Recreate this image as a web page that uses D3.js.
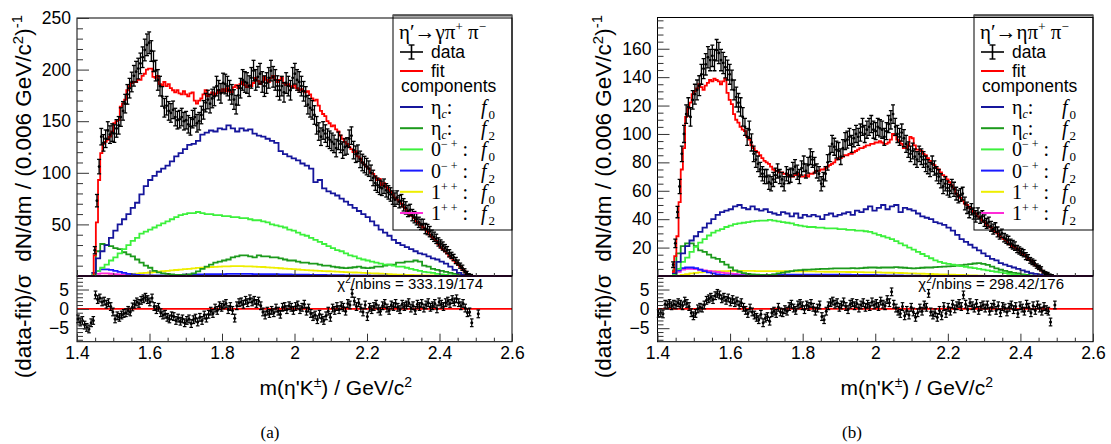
<!DOCTYPE html>
<html><head><meta charset="utf-8">
<script src="https://cdnjs.cloudflare.com/ajax/libs/d3/7.8.5/d3.min.js"></script>
</head>
<body style="margin:0;background:#fff">
<svg id="chart" width="1111" height="444" style="display:block"></svg>
<script>
// ---------- binning ----------
const BIN = 0.006;      // data / fit bin width (GeV)
const CBIN = 0.012;     // component bin width
const START = 1.44;     // first bin of data, fit, components
const RSTART = 1.40;    // first bin of residuals
const xTicks = [1.4, 1.6, 1.8, 2, 2.2, 2.4, 2.6];
const xTickLabels = ["1.4", "1.6", "1.8", "2", "2.2", "2.4", "2.6"];
const yTicksA = [50, 100, 150, 200, 250];
const yTicksB = [20, 40, 60, 80, 100, 120, 140, 160];
const rTicks = [-5, 0, 5];

// ---------- panel (a) ----------
const fitA = [
0,20,52,93,119,128,130,132,135,140,
148,150,151,164,167,171,180,184,187,188,
188,190,190,194,196,200,201,201,193,192,
194,186,185,188,184,186,182,180,178,180,
177,176,179,176,174,177,178,170,167,170,
172,176,180,174,176,178,175,177,180,178,
181,179,182,179,178,183,185,182,186,188,
185,183,185,184,187,192,189,186,188,193,
190,188,192,194,190,188,190,192,187,185,
186,184,183,185,182,180,181,179,178,179,
176,172,170,171,165,160,157,155,150,148,
145,146,142,140,136,133,130,128,125,123,
120,121,116,114,110,108,106,104,100,99,
96,93,94,88,90,86,84,82,79,76,
74,72,70,67,65,62,60,58,56,53,
51,49,47,45,43,40,38,36,34,31,
28,26,24,22,19,17,15,13,11,9,
7,5,2,0,0,0,0,0,0,0];
const dataA = [
0,25,73,106,135,129,133,141,137,139,
138,143,146,154,160,167,176,182,188,194,
198,201,206,212,219,224,226,218,208,199,
190,184,174,163,165,160,158,161,154,151,
152,154,150,151,147,145,152,154,148,150,
156,161,168,171,167,172,174,184,180,177,
187,186,184,180,176,171,166,175,182,190,
188,187,184,192,199,190,193,196,188,184,
187,192,199,193,190,184,180,184,178,187,
184,180,192,196,190,188,184,179,174,166,
163,161,156,146,140,135,141,138,134,132,
130,128,124,131,128,122,125,126,133,136,
122,118,119,113,110,108,106,104,100,95,
90,88,86,85,87,83,81,79,76,74,
76,72,73,69,66,63,64,59,57,55,
52,50,50,46,45,43,40,38,36,33,
31,29,27,25,22,20,18,15,13,10,
8,5,3,1,0.5,0,0,0,0,0];
const errA = [
0,3.5,6,7,8,8,8.5,8.5,8.5,8.5,
8.5,8.5,8.5,9,9,9,9.5,9.5,9.5,10,
10,10,10,10,10.5,10.5,10.5,10,10,10,
10,9.5,9.5,9,9,9,9,8.5,8.5,8.5,
8.5,8.5,8.5,8.5,8.5,8.5,8.5,8.5,8.5,8.5,
8.5,9,9,9,9,9,9,9.5,9.5,9.5,
9.5,9.5,9.5,9.5,9.5,9.5,9,9.5,9.5,10,
10,10,10,10,10,10,10,10,10,10,
10,10,10,10,10,10,9.5,9.5,9.5,10,
9.5,9.5,10,10,10,10,9.5,9.5,9.5,9,
9,9,9,8.5,8.5,8.5,8.5,8.5,8.5,8.5,
8.5,8.5,8.5,8.5,8.5,8,8,8,8.5,8.5,
8.5,8,8,8,8,8,8,7.5,7.5,7.5,
7,7,7,7,7,6.5,6.5,6.5,6.5,6.5,
6.5,6,6,6,6,5.5,5.5,5.5,5.5,5.5,
5,5,5,5,5,5,4.5,4.5,4.5,4,
4,4,3.5,3.5,3.5,3,3,3,2.5,2.5,
2.5,2,1.5,1.2,1,0,0,0,0,0];
const resA = [
-2.6,-3.4,-3.0,-4.2,-4.8,-5.2,-3.6,-3.0,3.6,2.4,
2.8,1.8,2.0,1.2,1.6,0.6,-0.8,-2.6,-1.8,-2.2,
-1.6,-1.2,-1.0,-0.4,-0.8,0.5,1.2,1.8,1.4,2.2,
2.6,3.0,2.4,1.8,2.8,0.6,-0.2,0.4,-1.0,-1.6,
-1.4,-2.2,-2.6,-1.8,-2.0,-3.0,-2.4,-3.2,-2.6,-3.6,
-3.0,-2.6,-3.8,-2.8,-2.4,-3.4,-2.2,-3.0,-1.6,-2.4,
-1.4,-0.6,-1.2,0.2,-0.4,0.8,0.4,1.0,1.4,-0.2,
0.6,-0.4,-2.4,0.8,1.6,1.8,1.2,2.2,1.6,2.6,
1.8,2.2,1.4,2.0,0.8,-0.8,-1.6,-0.6,-1.2,-0.4,
-1.0,0.2,-0.6,-1.4,0.4,0.6,-0.2,0.8,0.4,-0.4,
0.6,1.0,-0.2,0.4,1.2,-0.6,0.2,-1.2,-2.0,-1.6,
-2.8,-1.4,-2.4,-3.0,-1.8,-0.6,-2.2,0.2,-0.4,0.6,
-0.2,0.8,0.4,-0.6,1.4,1.0,4.0,2.0,0.6,1.6,
0.2,-0.8,1.0,-2.0,0.4,-0.2,0.6,1.2,0.0,-0.6,
0.8,1.4,0.2,-0.4,1.0,0.6,1.4,0.4,-0.2,1.2,
0.6,1.0,1.6,0.2,0.8,-0.4,1.2,0.6,1.4,0.2,
1.0,1.6,0.4,0.8,1.4,0.0,1.8,1.2,0.6,1.6,
2.0,1.4,2.4,1.8,2.6,1.6,0.8,1.4,0.2,-1.0,
-0.8,-3.6,null,null,-1.3];
// components (a), 0.012 GeV bins from 1.44
const etaF0A = [
3,17,24,30,37,44,50,55,60,66,
71,79,87,93,97,101,104,107,111,116,
119,123,127,128,131,137,139,141,140,143,
142,146,143,140,143,141,142,138,136,135,
133,131,129,121,118,116,114,112,109,107,
104,91,93,85,82,80,78,75,72,69,
66,63,60,57,53,49,45,42,39,35,
32,30,28,26,24,22,21,19,17,16,
14,12,9,6,3,1,0,0,0];
const etaF2A = [
3,24,31,30,29,27,26,23,21,19,
16,13,10,8,5,3.5,2.5,2,1.5,1,
1,1.2,1.6,2.5,4.5,7,9,11,13,14,
15,16,18,19,20,20,19,18,20,19,
19,18,18,17,16,15,15,14,13,13,
12,12,11,10,10,9,8.5,8,7.6,8,
8.5,9,8,7.6,8,9,9,10,11,11,
13,13,14,14,15,14,10,9,7,6,
5,4,3,2,1,0.5,0,0,0];
const psF0A = [
1,5,8,11,15,18,22,26,30,34,
37,41,43,45,47,49,51,53,55,57,
59,60,61,61,62,61,60,60,59,59,
58,58,57,57,56,56,55,54,54,53,
52,50,49,48,47,45,44,42,40,39,
37,35,33,31,29,27,25,24,22,20,
19,17,16,15,14,13,12,11,11,10,
9,9,8,7,6,5,4,3.5,3,2,
1.5,1,0.5,0.3,0,0,0,0,0];
const psF2A = [
1,5,6.5,6.5,6,5,4,3,2,1.5,
1,0.8,0.6,0.5,0.5,0.5,0.6,0.7,0.8,1,
1.1,1.2,1.3,1.4,1.5,1.6,1.7,1.8,1.8,1.9,
1.9,2,2,2,2,2,2,1.9,1.9,1.8,
1.8,1.7,1.7,1.6,1.5,1.5,1.4,1.3,1.3,1.2,
1.1,1.1,1,1,0.9,0.9,0.8,0.8,0.7,0.7,
0.6,0.6,0.5,0.5,0.4,0.4,0.3,0.3,0.2,0.2,
0.1,0,0,0,0,0,0,0,0];
const axF0A = [
0,0,0.2,0.4,0.6,0.8,1,1.3,1.6,2,
2.3,2.7,3,3.4,3.8,4.2,4.6,5,5.4,5.8,
6.2,6.6,7,7.4,7.8,8.1,8.4,8.7,8.9,9.1,
9.3,9.4,9.5,9.5,9.5,9.4,9.3,9.1,8.9,8.7,
8.4,8.1,7.8,7.5,7.2,6.9,6.6,6.3,6,5.7,
5.4,5.2,5,4.8,4.6,4.4,4.2,4,3.8,3.6,
3.4,3.2,3,2.8,2.6,2.4,2.2,2,1.8,1.6,
1.4,1.2,1.1,1,0.9,0.8,0.7,0.6,0.5,0.4,
0.3,0.2,0.1,0,0,0,0,0,0];
const axF2A = [
0.5,2,2.5,2.5,2.2,1.8,1.5,1.2,0.9,0.7,
0.5,0.4,0.3,0.3,0.2,0.2,0.1,0,0,0];

// ---------- panel (b) ----------
const fitB = [
3,14,28,52,75,90,112,118,122,128,
130,132,135,133,131,134,136,138,137,139,
138,137,135,137,139,129,124,121,114,110,
108,105,103,102,98,96,92,90,88,87,
85,83,81,80,79,77,75,74,74,73,
73,72,72,71,70,70,71,72,71,70,
70,71,70,72,72,73,74,74,75,75,
76,77,78,79,80,82,83,83,84,85,
85,86,86,87,88,89,90,90,91,92,
92,93,93,94,94,95,94,93,93,94,
96,100,99,96,95,93,90,90,92,98,
97,92,89,89,88,86,85,83,81,79,
78,76,75,73,71,70,68,66,64,62,
58,56,55,53,51,50,48,47,45,44,
42,41,39,38,36,35,34,32,31,30,
28,27,26,25,23,22,21,20,19,18,
16,15,14,12,11,10,8,7,6,4,
3,2,1,0,0,0,0,0,0,0];
const dataB = [
8,23,45,63,86,100,114,119,112,124,
128,131,134,142,146,149,154,152,155,152,
159,157,152,150,147,145,142,138,131,126,
122,119,112,105,98,103,94,86,82,79,
75,72,70,70,66,65,68,71,74,70,
68,65,72,70,71,75,77,73,70,76,
79,74,78,84,82,78,74,72,65,68,
72,80,86,93,91,89,88,84,90,95,
96,98,93,97,100,98,101,105,100,103,
105,107,103,102,105,104,103,98,102,107,
110,114,105,100,98,101,97,93,89,86,
88,84,82,86,84,82,79,77,75,79,
76,72,70,67,63,65,62,60,63,61,
58,56,57,58,51,48,45,47,44,42,
44,41,42,39,37,38,35,33,34,31,
29,30,27,26,25,23,22,21,19,18,
17,16,14,13,11,10,9,7,6,5,
3,2,1.5,0.8,0.4,0,0,0,0,0];
const errB = [
2,3,4,5,5.5,6,6.5,6.5,6.5,6.5,
7,7,7,7,7,7.5,7.5,7.5,7.5,7.5,
7.5,7.5,7.5,7.5,7.5,7,7,7,7,7,
6.5,6.5,6.5,6,6,6,6,5.5,5.5,5.5,
5,5,5,5,5,5,5,5,5,5,
5,5,5,5,5,5,5,5,5,5,
5.5,5,5.5,5.5,5.5,5.5,5,5,5,5,
5,5.5,5.5,6,6,6,6,5.5,6,6,
6,6,6,6,6,6,6,6,6,6,
6,6,6,6,6,6,6,6,6,6,
6.5,6.5,6,6,6,6,6,6,5.5,5.5,
5.5,5.5,5.5,5.5,5.5,5.5,5.5,5,5,5.5,
5,5,5,5,5,5,5,4.5,5,5,
4.5,4.5,4.5,4.5,4.5,4,4,4,4,4,
4,4,4,4,3.5,3.5,3.5,3.5,3.5,3.5,
3,3,3,3,3,3,3,3,2.5,2.5,
2.5,2.5,2.5,2,2,2,2,1.5,1.5,1.5,
1,1,1,0.5,0.5,0,0,0,0,0];
const resB = [
-1.2,-1.0,-1.3,1.2,1.0,1.4,0.8,1.2,1.0,1.6,
1.2,0.8,2.0,1.4,0.6,-1.0,-1.8,-1.2,0.0,0.4,
0.2,1.0,2.2,2.6,3.0,2.4,3.4,4.0,3.6,2.6,
3.0,2.2,2.8,1.8,2.4,1.6,2.0,1.0,1.6,0.4,
-0.4,-1.2,0.2,-0.8,-1.6,-2.2,-2.8,-1.4,-3.6,-2.4,
-2.0,-3.2,-1.0,-0.6,-1.2,0.4,-0.8,-1.0,-0.2,-0.6,
0.6,1.2,0.2,-0.4,1.0,1.4,0.8,-0.2,1.0,0.6,
1.4,0.4,-0.6,0.2,1.0,-2.0,-2.8,-0.6,0.8,1.6,
2.0,1.2,1.6,0.4,1.0,1.8,0.6,-0.2,1.2,1.6,
0.8,1.4,0.2,1.0,1.6,0.4,1.2,0.6,1.8,1.0,
1.4,0.6,2.0,1.2,0.8,2.4,1.6,4.4,1.2,0.2,
-0.6,-1.2,0.6,-1.8,-0.4,-1.6,0.4,-0.8,-2.2,-1.0,
0.2,-0.6,1.0,0.4,4.0,-0.8,-1.6,-1.0,-2.2,-0.4,
-1.8,0.6,-1.2,0.4,-0.6,1.2,0.0,0.8,1.4,0.6,
3.6,1.2,-0.2,1.6,0.8,0.2,1.4,-0.4,0.6,1.0,
0.2,1.0,-0.6,0.4,1.2,-0.4,0.8,-1.0,0.6,0.2,
-0.8,0.4,1.0,-0.2,0.6,-1.2,0.8,0.2,-0.6,1.2,
0.4,-1.0,0.8,-0.4,1.0,0.2,-0.6,0.6,-0.2,-0.6,
-3.4,null,1.0];
const etaF0B = [
2,10,16,21,25,28,31,34,37,40,
43,45,46,47,49,50,48,47,49,47,
46,47,45,44,43,45,44,42,44,41,
43,42,43,42,40,43,44,42,43,44,
45,43,46,45,47,49,46,48,50,47,
49,50,45,48,47,46,44,42,41,40,
38,37,36,34,32,29,26,24,22,20,
18,16,14,12,11,9,8,7,6,5,
4,3,2,1.5,1,0.5,0,0,0];
const etaF2B = [
4,16,21,23,23,21,18,17,15,13,
12,10,8,6,4,3,2,1.5,1.2,1,
0.8,0.7,0.8,1.2,1.8,2.4,3,3.5,4,4.2,
4.4,4.5,4.7,4.8,5,5,5.2,5.3,5.4,5.4,
5.4,5.5,5.4,5.6,5.8,6,6,5.8,6,6,
6,6.2,6,5.8,5.6,5.4,5.6,5.8,6,6,
6.2,6.4,6.6,6.8,7,7.4,7.7,8,8.4,8.8,
9,8.6,7.8,6.6,5.4,4.4,3.6,2.8,2.2,1.8,
1.2,0.8,0.4,0,0,0,0,0,0];
const psF0B = [
1,5,10,13,17,20.5,23.5,26,28.5,30.5,
32,33,34.5,35.5,36.5,37,37.5,38,38.5,38.8,
39,39,39.5,39,38.5,38,37.5,37,36,35.5,
35,34.5,34.5,34,34,33.5,33.5,33.5,33,33,
32.5,32.5,32,32,31.5,31,30,29,28,27,
26,24.5,23,21.5,20,18.5,17,15.5,14,12.5,
11,10,9,8.5,8,7.5,7,6.5,6,5.5,
5,4.5,4,3.5,3,2.5,2,1.5,1,0.8,
0.5,0.3,0,0,0,0,0,0,0];
const psF2B = [
1,4,5.5,6,6,5.5,4.5,3.5,2.5,1.8,
1.2,0.8,0.6,0.5,0.5,0.5,0.5,0.6,0.6,0.7,
0.7,0.8,0.8,0.9,0.9,1,1,1,1,1,
1,1,1,1,1,1,1,1,0.9,0.9,
0.9,0.8,0.8,0.8,0.7,0.7,0.7,0.6,0.6,0.5,
0.5,0.4,0.4,0.3,0.3,0.2,0.2,0.1,0.1,0];
const axF0B = [
0,0.3,0.8,1.3,1.8,2.2,2.6,2.9,3.1,3.3,
3.4,3.5,3.5,3.6,3.6,3.6,3.6,3.6,3.6,3.5,
3.5,3.5,3.5,3.4,3.4,3.4,3.4,3.3,3.3,3.3,
3.2,3.2,3.2,3.1,3.1,3,3,3,2.9,2.9,
2.8,2.8,2.7,2.7,2.6,2.6,2.5,2.5,2.4,2.3,
2.3,2.2,2.1,2,1.9,1.8,1.7,1.6,1.5,1.4,
1.3,1.2,1.1,1,0.9,0.8,0.7,0.6,0.5,0.4,
0.3,0.2,0.1,0];
const axF2B = [
0.5,3,4.5,5,5,4.8,4.4,4,3.6,3.2,
2.8,2.4,2,1.7,1.4,1.2,1,0.8,0.6,0.5,
0.4,0.3,0.2,0.2,0.1,0];

// ---------- legend text ----------
const compColors = ["#16169c", "#1c9a1c", "#3cf03c", "#1a1aff", "#eeee00", "#ff2ad8"];
const legBase = ["η", "η", "0", "0", "1", "1"];
const legSub = ["c", "c", "", "", "", ""];
const legSup = ["", "", "− +", "− +", "+ +", "+ +"];
const legF = ["0", "2", "0", "2", "0", "2"];

const SANS = "'Liberation Sans', Arial, Helvetica, sans-serif";
const SERIF = "'Liberation Serif', 'DejaVu Serif', 'Times New Roman', serif";
const svg = d3.select("#chart");
svg.append("rect").attr("width", 1111).attr("height", 444).attr("fill", "#fff");

function histPoints(vals, start, w) {
  const pts = vals.map((v, i) => [start + i * w, v]);
  pts.push([start + vals.length * w, vals[vals.length - 1]]);
  return pts;
}

function drawPanel(P) {
  const g = svg.append("g");
  const x = d3.scaleLinear().domain([xTicks[0], xTicks[xTicks.length - 1]]).range([P.x0, P.x1]);
  const y = d3.scaleLinear().domain([0, P.ymax]).range([P.yBase, P.yTop]);
  const yr = d3.scaleLinear().domain([-8.5, 8.5]).range([P.yBot, P.yBase]);

  const clipId = "clip" + P.id;
  svg.append("clipPath").attr("id", clipId).append("rect")
    .attr("x", P.x0).attr("y", P.yTop).attr("width", P.x1 - P.x0).attr("height", P.yBase - P.yTop);
  const up = g.append("g").attr("clip-path", `url(#${clipId})`);
  const line = d3.line().x(d => x(d[0])).y(d => y(d[1])).curve(d3.curveStepAfter);

  const order = [4, 5, 3, 1, 2, 0];
  order.forEach(k => {
    up.append("path").attr("d", line(histPoints(P.comps[k], START, CBIN)))
      .attr("fill", "none").attr("stroke", compColors[k]).attr("stroke-width", 1.8);
  });
  up.append("path").attr("d", line(histPoints(P.fit, START, BIN)))
    .attr("fill", "none").attr("stroke", "#ff0000").attr("stroke-width", 1.8);

  const pts = P.data.map((v, i) => ({ v, e: P.err[i], i })).filter(d => d.v > 0);
  const dg = up.append("g").attr("stroke", "#000").attr("stroke-width", 1.3);
  pts.forEach(d => {
    const cx = x(START + (d.i + 0.5) * BIN);
    const xl = x(START + d.i * BIN), xr = x(START + (d.i + 1) * BIN);
    const yt = y(d.v + d.e), yb = y(d.v - d.e);
    dg.append("line").attr("x1", cx).attr("x2", cx).attr("y1", yt).attr("y2", yb);
    dg.append("line").attr("x1", cx - 2).attr("x2", cx + 2).attr("y1", yt).attr("y2", yt);
    dg.append("line").attr("x1", cx - 2).attr("x2", cx + 2).attr("y1", yb).attr("y2", yb);
    dg.append("line").attr("x1", xl).attr("x2", xr).attr("y1", y(d.v)).attr("y2", y(d.v));
    dg.append("circle").attr("cx", cx).attr("cy", y(d.v)).attr("r", 1.4).attr("fill", "#000").attr("stroke", "none");
  });

  g.append("line").attr("x1", P.x0).attr("x2", P.x1).attr("y1", P.yBase).attr("y2", P.yBase)
    .attr("stroke", "#80107e").attr("stroke-width", 2);

  g.append("line").attr("x1", P.x0).attr("x2", P.x1).attr("y1", yr(0)).attr("y2", yr(0))
    .attr("stroke", "#ff0000").attr("stroke-width", 1.6);
  const rg = g.append("g").attr("stroke", "#000").attr("stroke-width", 1.2);
  P.res.forEach((r, i) => {
    if (r === null) return;
    const cx = x(RSTART + (i + 0.5) * BIN);
    const yt = yr(r + 1), yb = yr(r - 1);
    rg.append("line").attr("x1", cx).attr("x2", cx).attr("y1", yt).attr("y2", yb);
    rg.append("line").attr("x1", cx - 1.8).attr("x2", cx + 1.8).attr("y1", yt).attr("y2", yt);
    rg.append("line").attr("x1", cx - 1.8).attr("x2", cx + 1.8).attr("y1", yb).attr("y2", yb);
    rg.append("circle").attr("cx", cx).attr("cy", yr(r)).attr("r", 1.5).attr("fill", "#000").attr("stroke", "none");
  });

  g.append("rect").attr("x", P.x0).attr("y", P.yTop).attr("width", P.x1 - P.x0).attr("height", P.yBase - P.yTop)
    .attr("fill", "none").attr("stroke", "#000").attr("stroke-width", 1);
  g.append("rect").attr("x", P.x0).attr("y", P.yBase).attr("width", P.x1 - P.x0).attr("height", P.yBot - P.yBase)
    .attr("fill", "none").attr("stroke", "#000").attr("stroke-width", 1);

  const styleAxis = s => {
    s.select(".domain").remove();
    s.selectAll(".tick line").attr("stroke", "#333");
    s.selectAll(".tick text").attr("font-family", SANS).attr("font-size", 17.5).attr("fill", "#000");
  };
  g.append("g").attr("transform", `translate(${P.x0},0)`)
    .call(d3.axisLeft(y).tickValues(P.yMajor).tickSizeInner(-12).tickSizeOuter(0).tickPadding(6).tickFormat(d3.format("d")))
    .call(styleAxis);
  const yMinor = d3.range(0, P.ymax, P.yMinorStep).filter(v => v > 0 && !P.yMajor.includes(v));
  g.append("g").attr("transform", `translate(${P.x0},0)`)
    .call(d3.axisLeft(y).tickValues(yMinor).tickSizeInner(-6).tickSizeOuter(0).tickFormat(() => ""))
    .call(styleAxis);
  g.append("g").attr("transform", `translate(${P.x0},0)`)
    .call(d3.axisLeft(yr).tickValues(rTicks).tickSizeInner(-12).tickSizeOuter(0).tickPadding(8).tickFormat(d3.format("d")))
    .call(styleAxis);
  const rMinor = d3.range(-8, 9, 1).filter(v => !rTicks.includes(v));
  g.append("g").attr("transform", `translate(${P.x0},0)`)
    .call(d3.axisLeft(yr).tickValues(rMinor).tickSizeInner(-6).tickSizeOuter(0).tickFormat(() => ""))
    .call(styleAxis);
  const xMinor = d3.range(1.45, 2.6, 0.05).filter(v => !xTicks.some(t => Math.abs(t - v) < 1e-6));
  g.append("g").attr("transform", `translate(0,${P.yBot})`)
    .call(d3.axisBottom(x).tickValues(xTicks).tickSizeInner(-8).tickSizeOuter(0).tickPadding(5)
      .tickFormat((d, i) => xTickLabels[i]))
    .call(styleAxis);
  g.append("g").attr("transform", `translate(0,${P.yBot})`)
    .call(d3.axisBottom(x).tickValues(xMinor).tickSizeInner(-4).tickSizeOuter(0).tickFormat(() => ""))
    .call(styleAxis);
  g.append("g").attr("transform", `translate(0,${P.yBase})`)
    .call(d3.axisBottom(x).tickValues(xTicks).tickSizeInner(-6).tickSizeOuter(0).tickFormat(() => ""))
    .call(styleAxis);
  g.append("g").attr("transform", `translate(0,${P.yBase})`)
    .call(d3.axisBottom(x).tickValues(xMinor).tickSizeInner(-3).tickSizeOuter(0).tickFormat(() => ""))
    .call(styleAxis);

  const ct = g.append("text").attr("x", P.x1 - 29).attr("y", P.yBase + 13).attr("text-anchor", "end")
    .attr("font-family", SANS).attr("font-size", 15);
  ct.append("tspan").text("χ");
  ct.append("tspan").attr("dy", -6).attr("font-size", 10).text("2");
  ct.append("tspan").attr("dy", 6).text("/nbins = " + P.chi);

  const yt = g.append("text").attr("transform", `translate(${P.titleX},15) rotate(-90)`)
    .attr("text-anchor", "end").attr("font-family", SANS).attr("font-size", 22.5);
  yt.append("tspan").text("(data-fit)/σ\u00a0\u00a0dN/dm / (0.006 GeV/c");
  yt.append("tspan").attr("dy", -8).attr("font-size", 15).text("2");
  yt.append("tspan").attr("dy", 8).text(")");
  yt.append("tspan").attr("dy", -9).attr("font-size", 15).text("-1");

  const xt = g.append("text").attr("x", P.xTitleEnd).attr("y", 395).attr("text-anchor", "end")
    .attr("font-family", SANS).attr("font-size", 21);
  xt.append("tspan").text("m(η'K");
  xt.append("tspan").attr("dy", -8).attr("font-size", 14).text("±");
  xt.append("tspan").attr("dy", 8).text(") / GeV/c");
  xt.append("tspan").attr("dy", -8).attr("font-size", 14).text("2");

  g.append("text").attr("x", P.captionX).attr("y", 438).attr("text-anchor", "middle")
    .attr("font-family", SERIF).attr("font-size", 17).text(P.caption);

  drawLegend(P);
}

function drawLegend(P) {
  const lx = P.legendX, ly = P.legendY;
  const g = svg.append("g");
  g.append("rect").attr("x", lx).attr("y", ly).attr("width", P.x1 - lx).attr("height", 215)
    .attr("fill", "none").attr("stroke", "#000").attr("stroke-width", 1);
  g.append("line").attr("x1", lx).attr("x2", P.x1).attr("y1", ly + 0.5).attr("y2", ly + 0.5)
    .attr("stroke", "#555").attr("stroke-width", 2);
  const t = g.append("text").attr("x", lx + 6).attr("y", ly + 24).attr("font-family", SERIF).attr("font-size", 21);
  t.append("tspan").text(P.decay);
  t.append("tspan").attr("dy", -8).attr("font-size", 13).text("+");
  t.append("tspan").attr("dy", 8).text(" π");
  t.append("tspan").attr("dy", -8).attr("font-size", 13).text("−");
  const dy0 = ly + 37;
  g.append("line").attr("x1", lx + 7).attr("x2", lx + 30).attr("y1", dy0).attr("y2", dy0).attr("stroke", "#000").attr("stroke-width", 1.6);
  g.append("line").attr("x1", lx + 18.5).attr("x2", lx + 18.5).attr("y1", dy0 - 7).attr("y2", dy0 + 7).attr("stroke", "#000").attr("stroke-width", 1.6);
  g.append("line").attr("x1", lx + 15.5).attr("x2", lx + 21.5).attr("y1", dy0 - 7).attr("y2", dy0 - 7).attr("stroke", "#000").attr("stroke-width", 1.4);
  g.append("line").attr("x1", lx + 15.5).attr("x2", lx + 21.5).attr("y1", dy0 + 7).attr("y2", dy0 + 7).attr("stroke", "#000").attr("stroke-width", 1.4);
  g.append("text").attr("x", lx + 38).attr("y", dy0 + 6).attr("font-family", SANS).attr("font-size", 17.5).text("data");
  const fy = ly + 56;
  g.append("line").attr("x1", lx + 7).attr("x2", lx + 30).attr("y1", fy).attr("y2", fy).attr("stroke", "#ff0000").attr("stroke-width", 2);
  g.append("text").attr("x", lx + 38).attr("y", fy + 6).attr("font-family", SANS).attr("font-size", 17.5).text("fit");
  g.append("text").attr("x", lx + 8).attr("y", ly + 77).attr("font-family", SANS).attr("font-size", 17.5).text("components");
  for (let k = 0; k < 6; k++) {
    const ry = ly + 92 + k * 21.2;
    g.append("line").attr("x1", lx + 7).attr("x2", lx + 30).attr("y1", ry).attr("y2", ry)
      .attr("stroke", compColors[k]).attr("stroke-width", 2);
    const tt = g.append("text").attr("x", lx + 38).attr("y", ry + 7).attr("font-family", SERIF).attr("font-size", 20);
    tt.append("tspan").text(legBase[k]);
    if (legSub[k]) {
      tt.append("tspan").attr("dy", 4).attr("font-size", 12).attr("font-style", "italic").text(legSub[k]);
      tt.append("tspan").attr("dy", -4).text(":");
    } else {
      tt.append("tspan").attr("dy", -8).attr("font-size", 12).text(legSup[k]);
      tt.append("tspan").attr("dy", 8).text(" :");
    }
    const ft = g.append("text").attr("x", lx + 88).attr("y", ry + 7).attr("font-family", SERIF).attr("font-size", 20);
    ft.append("tspan").attr("font-style", "italic").text("f");
    ft.append("tspan").attr("dy", 5).attr("dx", 2).attr("font-size", 13).text(legF[k]);
  }
}

drawPanel({
  id: "a", x0: 77, x1: 512, yTop: 18, yBase: 276, yBot: 341.7, ymax: 250,
  yMajor: yTicksA, yMinorStep: 10,
  fit: fitA, data: dataA, err: errA, res: resA,
  comps: [etaF0A, etaF2A, psF0A, psF2A, axF0A, axF2A],
  legendX: 393, legendY: 15, titleX: 31, xTitleEnd: 412, captionX: 270, caption: "(a)",
  chi: "333.19/174", decay: "η′→γπ"
});
drawPanel({
  id: "b", x0: 657.5, x1: 1093, yTop: 17.5, yBase: 276, yBot: 341.7, ymax: 182,
  yMajor: yTicksB, yMinorStep: 5,
  fit: fitB, data: dataB, err: errB, res: resB,
  comps: [etaF0B, etaF2B, psF0B, psF2B, axF0B, axF2B],
  legendX: 974, legendY: 15, titleX: 611, xTitleEnd: 993, captionX: 852, caption: "(b)",
  chi: "298.42/176", decay: "η′→ηπ"
});
</script>
</body></html>
